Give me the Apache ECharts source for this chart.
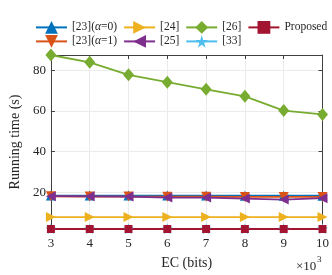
<!DOCTYPE html>
<html>
<head>
<meta charset="utf-8">
<script src="https://cdn.jsdelivr.net/npm/echarts@6/dist/echarts.min.js"></script>
<style>html,body{margin:0;padding:0;background:#fff;}#c{width:332px;height:275px;}</style>
</head>
<body>
<div id="c"></div>
<script>
const xValues = [3, 4, 5, 6, 7, 8, 9, 10];
const yTicks = [20, 40, 60, 80];
const s23a0 = [18.3, 18.3, 18.3, 18.3, 18.3, 18.2, 18.2, 18.2];
const s23a1 = [17.9, 17.8, 17.8, 17.7, 17.7, 17.6, 17.6, 17.6];
const s24 = [7.7, 7.7, 7.7, 7.7, 7.7, 7.7, 7.7, 7.7];
const s25 = [18.0, 17.9, 17.8, 17.3, 17.3, 16.8, 16.3, 17.0];
const s26 = [87.6, 84.0, 77.8, 74.2, 70.7, 67.2, 60.2, 58.3];
const s33 = [1.9, 1.9, 1.9, 1.9, 1.9, 1.9, 1.9, 1.9];
const sProposed = [1.8, 1.8, 1.8, 1.8, 1.8, 1.8, 1.8, 1.8];
const yMin = 1.8, yMax = 87.6;

const FONT = '"Liberation Serif", "Times New Roman", serif';
const AX = '#404040';
const TXT = '#262626';
const star = 'path://M50,0 L61,35 L98,35 L68,57 L79,91 L50,70 L21,91 L32,57 L2,35 L39,35 Z';

function pairs(arr){ return xValues.map((x,i)=>[x, arr[i]]); }
function mk(name, data, color, symbol, size, rotate){
  return {
    name, type: 'line', data: pairs(data), clip: false,
    symbol, symbolSize: size, symbolRotate: rotate || 0, showSymbol: true,
    lineStyle: { color, width: 1.8 }, itemStyle: { color, opacity: 1 },
    emphasis: { disabled: true }, animation: false
  };
}
const LF = 11.5;
const rich = { n: { fontFamily: FONT, fontSize: LF, color: TXT }, i: { fontFamily: FONT, fontSize: LF, fontStyle: 'italic', color: TXT } };
function fmt(name){
  const m = name.match(/^(.*)α(.*)$/);
  if (m) return '{n|' + m[1] + '}{i|α}{n|' + m[2] + '}';
  return '{n|' + name + '}';
}
const legendBase = {
  orient: 'horizontal', itemWidth: 31, itemHeight: 16, itemGap: 6, width: 330,
  textStyle: { fontFamily: FONT, fontSize: LF, color: TXT, rich },
  formatter: fmt, selectedMode: false
};

const chart = echarts.init(document.getElementById('c'), null, { renderer: 'canvas' });
chart.setOption({
  animation: false,
  backgroundColor: '#fff',
  grid: { left: 45, right: 7, top: 55, bottom: 40.5 },
  legend: [
    Object.assign({}, legendBase, { left: 30, top: 16, data: ['[23](α=0)', '[24]', '[26]', 'Proposed'] }),
    Object.assign({}, legendBase, { left: 30, top: 30, data: ['[23](α=1)', '[25]', '[33]'] })
  ],
  xAxis: [
    { type: 'value', min: 3, max: 10, interval: 1, position: 'bottom',
      name: 'EC (bits)', nameLocation: 'middle', nameGap: 27,
      nameTextStyle: { fontFamily: FONT, fontSize: 14, color: TXT },
      axisLine: { show: true, lineStyle: { color: AX, width: 1 } },
      axisTick: { show: true, inside: true, length: 4, lineStyle: { color: AX } },
      axisLabel: { fontFamily: FONT, fontSize: 13, color: TXT, margin: 8 },
      splitLine: { show: true, lineStyle: { color: '#ebebeb', width: 1 } } },
    { type: 'value', min: 3, max: 10, interval: 1, position: 'top',
      axisLine: { show: true, lineStyle: { color: AX, width: 1 } },
      axisTick: { show: true, inside: true, length: 4, lineStyle: { color: AX } },
      axisLabel: { show: false }, splitLine: { show: false } }
  ],
  yAxis: [
    { type: 'value', min: yMin, max: yMax, position: 'left',
      name: 'Running time (s)', nameLocation: 'middle', nameGap: 22,
      nameTextStyle: { fontFamily: FONT, fontSize: 14, color: TXT },
      axisLine: { show: true, lineStyle: { color: AX, width: 1 } },
      axisTick: { show: true, inside: true, length: 4, customValues: yTicks, lineStyle: { color: AX } },
      axisLabel: { fontFamily: FONT, fontSize: 13, color: TXT, margin: 5, customValues: yTicks },
      splitLine: { show: true, lineStyle: { color: '#ebebeb', width: 1 } } },
    { type: 'value', min: yMin, max: yMax, position: 'right',
      axisLine: { show: true, lineStyle: { color: AX, width: 1 } },
      axisTick: { show: true, inside: true, length: 4, customValues: yTicks, lineStyle: { color: AX } },
      axisLabel: { show: false }, splitLine: { show: false } }
  ],
  series: [
    mk('[23](α=0)', s23a0, '#0072BD', 'triangle', 10, 0),
    mk('[23](α=1)', s23a1, '#D95319', 'triangle', 10, 180),
    mk('[24]', s24, '#EDB120', 'triangle', 10, -90),
    mk('[25]', s25, '#7E2F8E', 'triangle', 10, 90),
    mk('[26]', s26, '#77AC30', 'diamond', [11, 13], 0),
    mk('[33]', s33, '#4DBEEE', star, 11, 0),
    mk('Proposed', sProposed, '#A2142F', 'rect', 8, 0)
  ],
  graphic: [
    { type: 'text', left: 296, top: 260, style: { text: '×10', font: '13px ' + FONT, fill: TXT } },
    { type: 'text', left: 317, top: 255, style: { text: '3', font: '9px ' + FONT, fill: TXT } }
  ]
});
</script>
</body>
</html>
